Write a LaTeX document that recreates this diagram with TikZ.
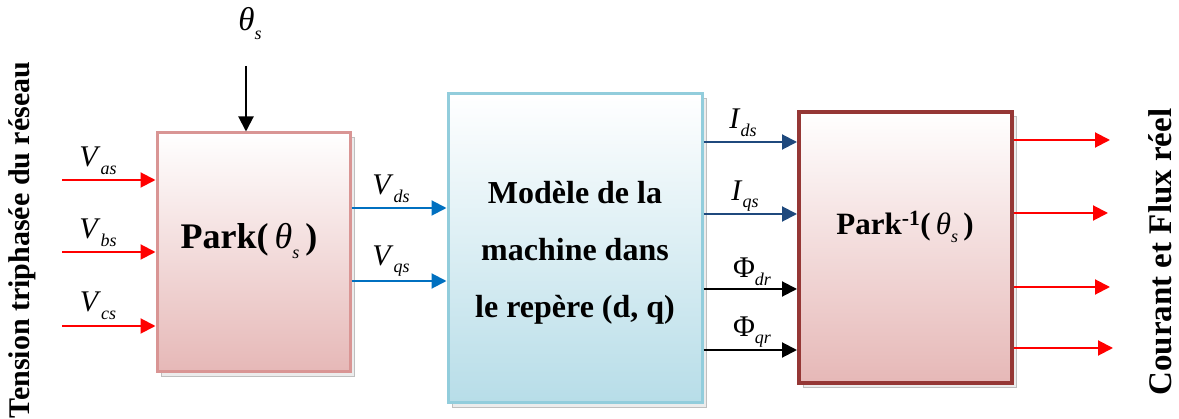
\documentclass[tikz,border=0pt]{standalone}
\usepackage{fontspec}
\setmainfont{Liberation Serif}
\usetikzlibrary{arrows.meta,calc}
\newcommand{\lsub}[2]{\textit{#1}\raisebox{-0.55ex}{\fontsize{18}{18}\selectfont\textit{#2}}}
\newcommand{\usub}[2]{#1\raisebox{-0.55ex}{\fontsize{18}{18}\selectfont\textit{#2}}}
\newcommand{\thsub}{{\normalfont\itshape θ}\raisebox{-0.6ex}{\fontsize{18}{18}\selectfont\normalfont\itshape s}}
\definecolor{pinkb}{HTML}{D99594}
\definecolor{pinkf}{HTML}{E6B8B7}
\definecolor{blueb}{HTML}{92CDDC}
\definecolor{bluef}{HTML}{B7DDE8}
\definecolor{darkr}{HTML}{953735}
\definecolor{arrblue}{HTML}{0070C0}
\definecolor{navy}{HTML}{1F497D}
\begin{document}
\begin{tikzpicture}[x=1pt,y=-1pt,
  blk/.style={draw, line width=3pt, inner sep=0pt, top color=white, align=center},
  arr/.style={line width=2pt, -{Triangle[length=15pt,width=15pt]}},
  lab/.style={font=\fontsize{30}{30}\selectfont, inner sep=0pt},
  side/.style={font=\fontsize{30}{30}\selectfont\bfseries, rotate=90, inner sep=0pt},
  shadowbox/.style={draw=gray!50, line width=0.8pt, fill=gray!15}
]
\useasboundingbox (0,0) rectangle (1179,419);
% shadows
\draw[shadowbox] (161,137) rectangle (354,376);
\draw[shadowbox] (452,98) rectangle (706,407);
\draw[shadowbox] (803,116) rectangle (1016,387);
% blocks
\node[blk, draw=pinkb, bottom color=pinkf, minimum width=193pt, minimum height=239pt] (park) at (253.5,252.5) {};
\node[blk, draw=blueb, bottom color=bluef, minimum width=254pt, minimum height=309pt] (model) at (575,248.5) {};
\node[blk, draw=darkr, line width=4pt, bottom color=pinkf, minimum width=213pt, minimum height=271pt] (inv) at (905.5,247.5) {};
% block texts
\node[font=\fontsize{36}{36}\selectfont\bfseries, inner sep=0pt] (parkt) at (249,241) {Park(\,\thsub\,)};
\node[font=\fontsize{32}{57}\selectfont\bfseries, align=center, inner sep=0pt] (modelt) at (575,253) {Modèle de la\\machine dans\\le repère (d, q)};
\node[font=\fontsize{31}{31}\selectfont\bfseries, inner sep=0pt] (invt) at (905,227) {Park\textsuperscript{-1}(\,\thsub\,)};
% side labels
\node[side] (lside) at (22,240) {Tension triphasée du réseau};
\node[side, font=\fontsize{33}{33}\selectfont\bfseries] (rside) at (1160,252) {Courant et Flux réel};
% theta input
\node[lab, font=\fontsize{33}{33}\selectfont] (theta) at (250,24) {\thsub};
\coordinate (thtop) at (246,66);
\draw[arr] (thtop) -- (park.north -| thtop);
% red inputs
\coordinate (a1) at (62,180);
\coordinate (a2) at (62,252);
\coordinate (a3) at (62,326);
\draw[arr, red] (a1) -- (park.west |- a1);
\draw[arr, red] (a2) -- (park.west |- a2);
\draw[arr, red] (a3) -- (park.west |- a3);
\node[lab] (vas) at (98,161) {\lsub{V}{as}};
\node[lab] (vbs) at (98,233) {\lsub{V}{bs}};
\node[lab] (vcs) at (98,306) {\lsub{V}{cs}};
% park -> model
\coordinate (d1) at (348,208);
\coordinate (d2) at (348,281);
\draw[arr, arrblue] (park.east |- d1) -- (model.west |- d1);
\draw[arr, arrblue] (park.east |- d2) -- (model.west |- d2);
\node[lab] (vds) at (391,189) {\lsub{V}{ds}};
\node[lab] (vqs) at (391,261) {\lsub{V}{qs}};
% model -> inverse
\coordinate (m1) at (700,142);
\coordinate (m2) at (700,214);
\coordinate (m3) at (700,289);
\coordinate (m4) at (700,350);
\draw[arr, navy] (model.east |- m1) -- (inv.west |- m1);
\draw[arr, navy] (model.east |- m2) -- (inv.west |- m2);
\draw[arr, black] (model.east |- m3) -- (inv.west |- m3);
\draw[arr, black] (model.east |- m4) -- (inv.west |- m4);
\node[lab] (ids) at (743,123) {\lsub{I}{ds}};
\node[lab] (iqs) at (745,196) {\lsub{I}{qs}};
\node[lab] (phdr) at (752,272) {\usub{Φ}{dr}};
\node[lab] (phqr) at (752,332) {\usub{Φ}{qr}};
% outputs
\coordinate (o1) at (1110,140);
\coordinate (o2) at (1108,213);
\coordinate (o3) at (1110,287);
\coordinate (o4) at (1113,348);
\draw[arr, red] (inv.east |- o1) -- (o1);
\draw[arr, red] (inv.east |- o2) -- (o2);
\draw[arr, red] (inv.east |- o3) -- (o3);
\draw[arr, red] (inv.east |- o4) -- (o4);
\end{tikzpicture}
\end{document}
